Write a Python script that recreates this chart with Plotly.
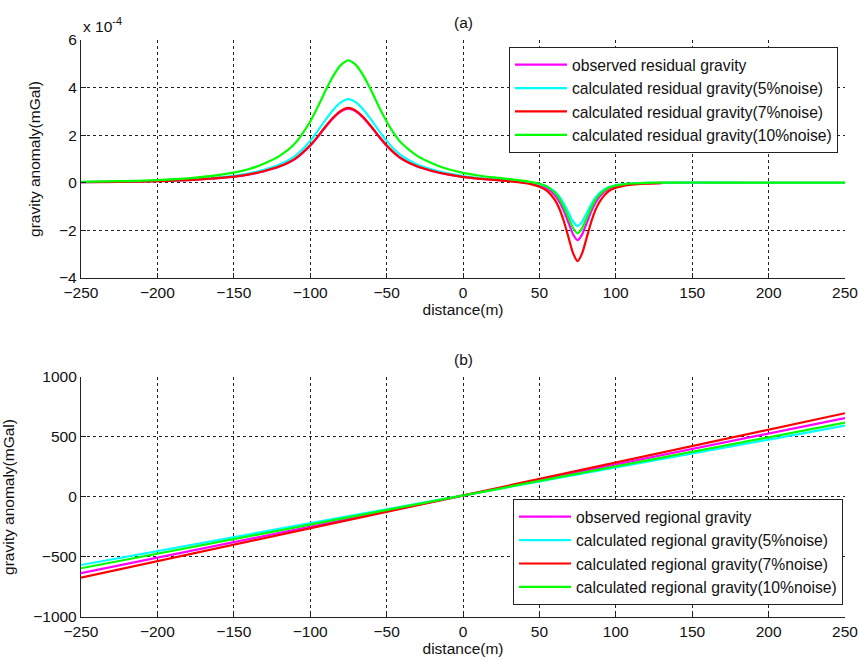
import plotly.graph_objects as go

# ---------------- data ----------------
distance_res = [-250, -225, -200, -175, -150, -140, -130, -120, -110, -100, -95, -90, -85, -80, -75,
                -70, -65, -60, -55, -50, -45, -40, -30, -20, -10, 0, 10, 20, 30, 40, 45, 50, 55, 60,
                63, 66, 69, 72, 75, 78, 81, 84, 87, 90, 95, 100, 105, 110, 120, 130, 150, 175, 200, 225, 250]

# residual gravity, in units of 1e-4 mGal
obs_res = [0.025, 0.041, 0.069, 0.131, 0.259, 0.349, 0.493, 0.686, 0.998, 1.56, 1.934, 2.34, 2.714, 2.995, 3.12,
           2.995, 2.714, 2.34, 1.934, 1.56, 1.248, 0.998, 0.686, 0.493, 0.349, 0.249, 0.178, 0.130, 0.078, 0.016,
           -0.029, -0.103, -0.232, -0.508, -0.780, -1.175, -1.668, -2.161, -2.409, -2.165, -1.678, -1.188, -0.799,
           -0.533, -0.266, -0.147, -0.088, -0.052, -0.018, -0.004, 0.002, 0.003, 0.003, 0.002, 0.002]
calc5_res = [0.028, 0.046, 0.077, 0.148, 0.292, 0.394, 0.556, 0.774, 1.126, 1.76, 2.182, 2.64, 3.062, 3.379, 3.52,
             3.379, 3.062, 2.64, 2.182, 1.76, 1.408, 1.126, 0.774, 0.556, 0.394, 0.285, 0.207, 0.154, 0.102, 0.046,
             0.008, -0.053, -0.153, -0.365, -0.572, -0.874, -1.249, -1.625, -1.814, -1.628, -1.260, -0.888, -0.593,
             -0.393, -0.191, -0.102, -0.059, -0.031, -0.007, 0.003, 0.004, 0.004, 0.003, 0.003, 0.002]
calc7_res = [0.025, 0.041, 0.069, 0.132, 0.261, 0.353, 0.498, 0.693, 1.008, 1.575, 1.953, 2.363, 2.741, 3.024, 3.15,
             3.024, 2.741, 2.363, 1.953, 1.575, 1.26, 1.008, 0.693, 0.498, 0.353, 0.248, 0.175, 0.124, 0.067, -0.009,
             -0.068, -0.164, -0.337, -0.709, -1.078, -1.615, -2.284, -2.953, -3.289, -2.956, -2.293, -1.627, -1.097,
             -0.734, -0.372, -0.208, -0.128, -0.078, -0.031, -0.011]
calc10_res = [0.041, 0.067, 0.113, 0.216, 0.427, 0.577, 0.814, 1.133, 1.648, 2.575, 3.193, 3.863, 4.481, 4.944, 5.15,
              4.944, 4.481, 3.863, 3.193, 2.575, 2.06, 1.648, 1.133, 0.814, 0.577, 0.418, 0.306, 0.229, 0.158, 0.083,
              0.035, -0.040, -0.160, -0.411, -0.657, -1.013, -1.456, -1.899, -2.123, -1.904, -1.471, -1.033, -0.688,
              -0.452, -0.217, -0.112, -0.063, -0.030, -0.002, 0.008, 0.012, 0.011, 0.008, 0.010, 0.005]

distance_reg = [-250, 250]
obs_reg = [-635, 658]
calc5_reg = [-567, 594]
calc7_reg = [-672, 698]
calc10_reg = [-594, 619]

names_res = ["observed residual gravity", "calculated residual gravity(5%noise)",
             "calculated residual gravity(7%noise)", "calculated residual gravity(10%noise)"]
names_reg = ["observed regional gravity", "calculated regional gravity(5%noise)",
             "calculated regional gravity(7%noise)", "calculated regional gravity(10%noise)"]
colors = ["#FF00FF", "#00FFFF", "#FF0000", "#00FF00"]

FONT = "Liberation Sans, Arial, sans-serif"
FS = 15.5
FL = 15.7

fig = go.Figure()

res_series = [obs_res, calc5_res, calc7_res, calc10_res]
for name, col, vals in zip(names_res, colors, res_series):
    fig.add_trace(go.Scatter(x=distance_res[:len(vals)], y=vals, mode="lines", name=name,
                             line=dict(color=col, width=2.2, shape="spline", smoothing=0.6),
                             xaxis="x", yaxis="y", legend="legend"))

reg_series = [obs_reg, calc5_reg, calc7_reg, calc10_reg]
for name, col, vals in zip(names_reg, colors, reg_series):
    fig.add_trace(go.Scatter(x=distance_reg, y=vals, mode="lines", name=name,
                             line=dict(color=col, width=2.2),
                             xaxis="x2", yaxis="y2", legend="legend2"))

common = dict(showgrid=True, gridcolor="#222222", griddash="3px,3px", gridwidth=1,
              zeroline=False, showline=True, linecolor="#222222", linewidth=1.3,
              ticks="inside", ticklen=5, tickcolor="#222222", mirror=False, automargin=False,
              tickfont=dict(family=FONT, size=FS, color="#111111"))

mirror_common = dict(showgrid=False, zeroline=False, showline=False, ticks="inside", ticklen=5,
                     tickcolor="#222222", showticklabels=False, automargin=False)

top_dom = [0.5875, 1.0]
bot_dom = [0.0, 0.416]

fig.update_layout(
    width=859, height=660,
    margin=dict(l=81, r=14, t=40, b=43, autoexpand=False),
    paper_bgcolor="white", plot_bgcolor="white",
    font=dict(family=FONT, size=FS, color="#111111"),
    showlegend=True,
    xaxis=dict(domain=[0, 1], anchor="y", range=[-250, 250], tick0=-250, dtick=50,
               title=dict(text="distance(m)", standoff=4, font=dict(size=FS)), **common),
    yaxis=dict(domain=top_dom, anchor="x", range=[-4, 6], tick0=-4, dtick=2,
               title=dict(text="gravity anomaly(mGal)", standoff=14, font=dict(size=FS)), **common),
    xaxis2=dict(domain=[0, 1], anchor="y2", range=[-250, 250], tick0=-250, dtick=50,
                title=dict(text="distance(m)", standoff=4, font=dict(size=FS)), **common),
    yaxis2=dict(domain=bot_dom, anchor="x2", range=[-1000, 1000], tick0=-1000, dtick=500,
                title=dict(text="gravity anomaly(mGal)", standoff=14, font=dict(size=FS)), **common),
    # mirrored tick marks on top/right edges
    xaxis3=dict(overlaying="x", anchor="y", side="top", range=[-250, 250], tick0=-250, dtick=50,
                **mirror_common),
    yaxis3=dict(overlaying="y", anchor="x", side="right", range=[-4, 6], tick0=-4, dtick=2,
                **mirror_common),
    xaxis4=dict(overlaying="x2", anchor="y2", side="top", range=[-250, 250], tick0=-250, dtick=50,
                **mirror_common),
    yaxis4=dict(overlaying="y2", anchor="x2", side="right", range=[-1000, 1000], tick0=-1000, dtick=500,
                **mirror_common),
    legend=dict(x=0.9908, xanchor="right", y=0.988, yanchor="top",
                bgcolor="white", bordercolor="#222222", borderwidth=1,
                font=dict(family=FONT, size=FL, color="#111111"),
                itemwidth=52, tracegroupgap=0),
    legend2=dict(x=0.9974, xanchor="right", y=0.0208, yanchor="bottom",
                 bgcolor="white", bordercolor="#222222", borderwidth=1,
                 font=dict(family=FONT, size=FL, color="#111111"),
                 itemwidth=52, tracegroupgap=0),
    annotations=[
        dict(text="x 10<sup>-4</sup>", xref="paper", yref="paper", x=0.0, y=1.005,
             xanchor="left", yanchor="bottom", showarrow=False,
             font=dict(family=FONT, size=FS, color="#111111")),
        dict(text="(a)", xref="paper", yref="paper", x=0.5, y=1.0295,
             xanchor="center", yanchor="middle", showarrow=False,
             font=dict(family=FONT, size=FS, color="#111111")),
        dict(text="(b)", xref="paper", yref="paper", x=0.5, y=0.447,
             xanchor="center", yanchor="middle", showarrow=False,
             font=dict(family=FONT, size=FS, color="#111111")),
    ],
)

fig.write_html("out.html")
